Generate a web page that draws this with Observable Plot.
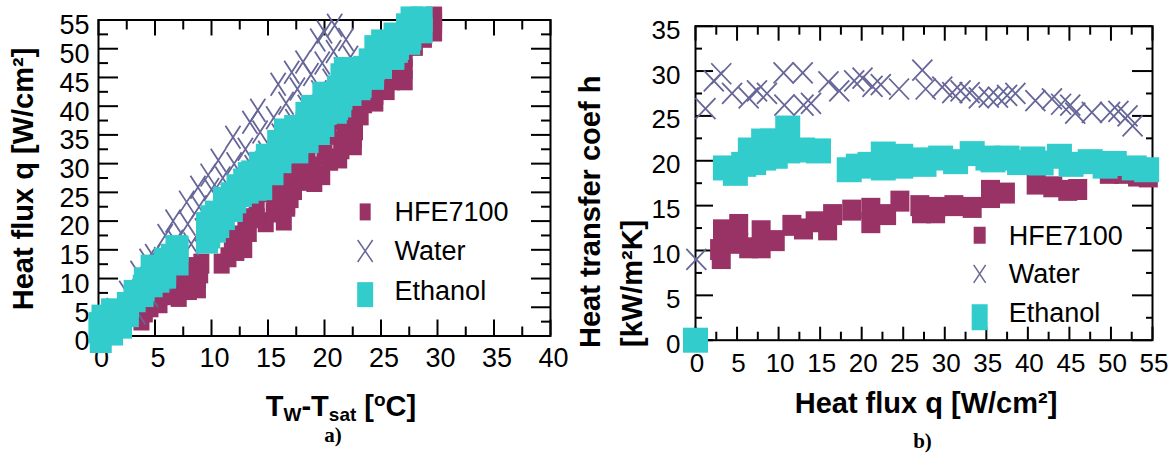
<!DOCTYPE html>
<html><head><meta charset="utf-8">
<script src="https://cdn.jsdelivr.net/npm/d3@7"></script>
<script src="https://cdn.jsdelivr.net/npm/@observablehq/plot@0.6"></script>
<style>
body{margin:0;background:#fff;}
#wrap{position:relative;width:1175px;height:454px;overflow:hidden;background:#fff;}
#wrap svg{position:absolute;top:0;}
</style></head><body><div id="wrap"></div>
<script>
// ---------- data (panel a: wall superheat [°C] vs heat flux [W/cm2]) ----------
const hfeLeft = [
 [3.8,2.7],[4.1,4.1],[4.6,5.0],[5.4,5.7],[5.4,7.5],[6.3,7.1],[7.1,6.8],[6.4,9.0],[7.5,8.5],[8.0,8.0],
 [8.8,8.3],[7.4,10.5],[8.8,10.0],[9.0,10.9],[8.3,12.0],[9.1,12.6],
 [10.9,12.6],[11.5,13.7],[11.8,15.5],[12.2,14.8],[12.9,15.3],[12.0,17.0],[12.5,17.5],[13.3,18.1],[14.8,19.8],
 [13.0,20.5],[14.0,20.5],[16.4,20.1],[15.5,21.5],[15.6,22.0],[14.0,22.5],[16.7,22.5],[16.7,23.0],[15.8,23.8],
 [17.0,24.0],[16.2,24.5],[15.3,25.0],[17.3,25.4],[16.5,26.5],[19.1,26.8],[16.0,27.0],[18.3,27.0],[17.3,27.5],
 [19.8,28.0],[18.0,28.5],[19.0,29.5],[17.5,30.0],[20.5,30.5],[21.3,30.9],[20.0,31.5],[18.5,32.5],[21.5,32.5],
 [22.6,33.2],[21.5,34.0],[22.6,34.5],[20.3,35.0],[22.7,35.8],[21.8,36.0],[22.7,37.0],[21.0,37.5],[23.2,38.4],
 [22.3,38.5],[22.0,40.0],[23.5,40.5],[24.5,40.8],[24.5,42.0],[22.8,42.0],[25.5,42.8],[23.8,43.5],[26.0,44.5],
 [27.1,44.5],[24.5,45.0],[26.0,46.5],[27.1,46.5],[25.5,47.5],[27.1,48.5],[26.5,50.0],[27.1,50.5],[28.0,50.5],
 [27.8,51.5],[28.8,51.9],[29.7,53.0],[28.0,53.5],[29.7,54.5],[29.7,55.6]
];
const waterLeft = [
 [0.3,0.8],[0.9,2.5],
 [1.4,4.6],[2.5,7.6],[3.5,11.1],[4.3,13.2],[4.8,14.0],[5.9,17.5],[6.6,20.0],[7.8,23.3],[8.8,25.9],[9.7,28.0],
 [10.6,30.6],[11.9,34.6],[13.4,37.2],[14.1,39.3],[15.9,43.8],[17.1,45.9],[18.1,47.7],[19.4,51.5],[20.0,52.9],[20.9,54.1],
 [2.3,4.0],[3.4,7.0],[4.5,10.0],[5.6,13.5],[6.8,16.5],[7.9,19.5],[8.9,22.5],[10.0,25.5],[11.0,27.5],[12.0,30.0],
 [13.0,32.5],[14.3,35.5],[15.5,38.0],[16.6,40.5],[17.6,43.0],[18.8,45.5],[19.8,47.5],[20.8,49.5],[21.9,51.6],
 [3.5,4.0],[4.6,7.0],[5.8,10.0],[7.0,13.0],[8.2,16.0],[9.2,18.5],[10.3,21.5],[11.5,24.5],[12.6,27.0],[13.6,29.5],
 [14.8,32.0],[16.0,35.0],[17.2,37.5],[18.3,40.0],[19.5,42.5],[20.5,44.5],[21.5,46.5],[22.3,48.5]
];
const ethanolLeft = [
 [0.2,-0.7],[0.1,1.0],[1.2,0.6],[0.1,1.9],[2.0,1.8],[0.35,3.2],[1.6,2.8],[1.2,4.3],[2.6,3.8],[2.6,5.4],
 [3.2,6.4],[3.9,7.3],[3.2,7.5],[4.0,8.4],[4.7,9.0],[4.1,9.7],[5.3,9.8],[5.9,10.5],[4.7,11.9],[5.3,11.5],
 [5.9,11.8],[7.0,12.8],[5.9,13.1],[6.5,13.8],[6.9,15.3],[7.0,15.2],
 [9.6,16.6],[9.8,17.5],[10.3,18.5],[9.6,19.3],[10.6,19.3],[10.0,20.5],[11.1,20.7],[10.4,21.3],[11.8,22.1],
 [11.3,22.5],[12.1,23.6],[11.1,23.7],[11.8,24.5],[12.6,24.7],[13.2,25.3],[12.5,25.5],[13.9,25.8],[14.4,25.9],
 [12.3,25.9],[12.9,26.9],[14.3,27.1],[13.3,28.0],[13.6,28.3],[15.4,28.5],[14.9,28.8],[14.3,29.8],[14.8,30.0],
 [16.1,30.6],[15.9,30.8],[14.9,31.2],[16.2,32.3],[17.6,32.3],[16.3,33.0],[15.9,33.6],[17.7,34.1],[18.5,34.1],
 [17.5,35.0],[18.6,35.5],[19.5,35.5],[16.5,35.6],[17.4,36.2],[18.4,36.8],[19.6,36.9],[19.9,36.9],[18.4,38.5],
 [20.1,39.0],[21.0,39.2],[19.5,39.5],[18.9,39.7],[21.1,39.8],[21.4,40.3],[20.5,41.0],[21.5,41.6],[19.9,42.0],
 [22.3,42.3],[21.2,43.1],[22.2,43.4],[23.1,43.3],[23.2,43.7],[23.0,45.0],[24.3,45.1],[21.5,45.2],[24.3,46.1],
 [21.8,46.3],[23.5,46.5],[25.0,47.0],[24.0,47.8],[25.0,48.5],[26.0,48.6],[26.1,48.6],[26.4,49.8],[24.5,50.1],
 [25.5,50.2],[26.5,50.3],[25.1,51.1],[27.5,51.2],[26.6,52.0],[27.6,52.0],[26.2,52.3],[28.6,53.2],[28.5,53.3],
 [27.3,53.9],[27.8,54.0],[27.7,55.1],[28.6,55.1]
];
// ---------- data (panel b: heat flux [W/cm2] vs heat transfer coefficient [kW/m2K]) ----------
const hfeRight = [
 [2.9,10.1],[3.1,9.1],[3.25,12.3],[3.25,11.2],[5.2,12.9],[5.2,10.8],[6.4,10.3],[7.9,12.2],[7.9,10.3],[9.6,11.1],
 [11.6,12.8],[13.0,12.4],[14.4,13.2],[15.9,12.3],[16.5,14.0],[18.8,14.5],[21.1,14.7],[21.1,13.1],[23.0,14.0],
 [24.6,15.5],[27.0,15.0],[27.2,14.2],[28.9,14.8],[28.9,14.2],[31.1,15.0],[33.3,14.8],[35.5,16.7],[35.5,15.9],
 [37.3,16.4],[41.0,17.4],[43.0,17.1],[44.8,16.7],[46.0,16.8],[49.8,18.6],[51.5,18.6],[53.2,18.3],[54.5,18.2]
];
const waterRight = [
 [0.1,9.0],[1.2,25.8],[2.2,28.9],[3.1,29.7],[4.4,27.5],[6.4,27.0],[7.4,27.8],[8.6,27.5],[10.6,29.8],[12.9,29.8],
 [10.7,26.2],[13.0,26.2],[13.9,26.4],[16.0,28.8],[17.3,27.8],[19.1,28.9],[20.1,29.2],[21.3,28.3],[22.3,28.5],
 [24.5,28.0],[27.3,30.1],[27.7,28.0],[29.7,28.2],[30.9,27.6],[31.9,27.8],[33.0,27.6],[34.1,27.0],[35.3,27.1],
 [36.4,27.1],[37.5,27.3],[38.5,27.5],[40.9,26.7],[42.9,26.9],[44.0,26.3],[45.1,26.2],[45.7,25.3],[47.7,25.4],
 [49.9,25.4],[50.9,25.5],[52.0,25.0],[52.6,23.9]
];
const ethanolRight = [
 [0,0],
 [3.6,19.2],[4.8,18.6],[5.8,19.6],[6.6,21.2],[7.0,19.8],[8.2,22.2],[8.2,20.3],[9.3,22.2],[9.6,20.5],
 [11.1,23.65],[11.1,21.1],[12.9,21.2],[14.8,21.1],
 [18.5,19.0],[19.6,19.4],[21.0,19.6],[22.6,20.75],[22.6,19.2],[24.7,20.5],[24.7,19.4],[27.3,20.1],[27.5,19.6],
 [29.5,20.3],[31.3,19.9],[33.3,20.8],[35.2,20.3],[35.8,20.1],[37.5,20.3],[39.0,19.8],[40.6,20.2],[41.6,19.75],
 [43.8,20.5],[45.2,19.6],[47.5,19.9],[49.3,19.4],[50.4,19.7],[52.8,19.2],[54.3,19.0]
];
const seriesNames = ["HFE7100", "Water", "Ethanol"];
const seriesColors = ["#993366", "#666699", "#33cccc"];
// ---------- ticks ----------
const xTicksLeft = [0, 5, 10, 15, 20, 25, 30, 35, 40];
const xMinorLeft = [2.5, 7.5, 12.5, 17.5, 22.5, 27.5, 32.5, 37.5];
const yTicksLeft = [0, 5, 10, 15, 20, 25, 30, 35, 40, 45, 50, 55];
const yMinorLeft = [2.5, 7.5, 12.5, 17.5, 22.5, 27.5, 32.5, 37.5, 42.5, 47.5, 52.5];
const xTicksRight = [0, 5, 10, 15, 20, 25, 30, 35, 40, 45, 50, 55];
const xMinorRight = [2.5, 7.5, 12.5, 17.5, 22.5, 27.5, 32.5, 37.5, 42.5, 47.5, 52.5];
const yTicksRight = [0, 5, 10, 15, 20, 25, 30, 35];
const yMinorRight = [2.5, 7.5, 12.5, 17.5, 22.5, 27.5, 32.5];

// ---------- helpers ----------
const FONT = "'Liberation Sans', Arial, Helvetica, sans-serif";
function rectSym(w, h) { return {draw(ctx) { ctx.rect(-w / 2, -h / 2, w, h); }}; }
function crossSym(w, h) { return {draw(ctx) { ctx.moveTo(-w / 2, -h / 2); ctx.lineTo(w / 2, h / 2); ctx.moveTo(w / 2, -h / 2); ctx.lineTo(-w / 2, h / 2); }}; }
const rows = (a) => a.map(([x, y]) => ({x, y}));

function panel(o) {
  const pw = o.width - o.mL - o.mR, ph = o.height - o.mT - o.mB;
  const K = {stroke: "black", strokeWidth: 2};
  const sym = o.sym;
  const leg = seriesNames.map((name, i) => ({name, i}));
  return Plot.plot({
    width: o.width, height: o.height,
    marginLeft: o.mL, marginRight: o.mR, marginTop: o.mT, marginBottom: o.mB,
    x: {domain: o.xDomain, axis: null},
    y: {domain: o.yDomain, axis: null},
    style: {fontFamily: FONT, background: "transparent", overflow: "visible"},
    marks: [
      Plot.frame(K),
      Plot.tickX(o.xMajor, {x: d => d, insetTop: ph - o.tl.b, ...K}),
      Plot.tickX(o.xMinor, {x: d => d, insetTop: ph - o.tl.bm, ...K}),
      Plot.tickX(o.xMajor, {x: d => d, insetBottom: ph - o.tl.t, ...K}),
      Plot.tickX(o.xMinor, {x: d => d, insetBottom: ph - o.tl.tm, ...K}),
      Plot.tickY(o.yMajor, {y: d => d, insetRight: pw - o.tl.l, ...K}),
      Plot.tickY(o.yMinor, {y: d => d, insetRight: pw - o.tl.lm, ...K}),
      Plot.tickY(o.yMajor, {y: d => d, insetLeft: pw - o.tl.r, ...K}),
      Plot.tickY(o.yMinor, {y: d => d, insetLeft: pw - o.tl.rm, ...K}),
      Plot.text(o.xMajor, {x: d => d, frameAnchor: "bottom", dy: o.xl.dy, dx: o.xl.dx, text: d => String(d), fontSize: o.tickFont, fill: "black"}),
      Plot.text(o.yMajor, {y: d => d, frameAnchor: "left", dx: o.yl.dx, dy: o.yl.dy, textAnchor: "end", text: d => String(d), fontSize: o.tickFont, fill: "black"}),
      Plot.dot(rows(o.hfe), {x: "x", y: "y", symbol: rectSym(...sym.hfe), fill: seriesColors[0], stroke: "none"}),
      Plot.dot(rows(o.water), {x: "x", y: "y", symbol: crossSym(...sym.water), fill: "none", stroke: seriesColors[1], strokeWidth: 1.8}),
      Plot.dot(rows(o.eth), {x: "x", y: "y", symbol: rectSym(...sym.eth), fill: seriesColors[2], stroke: "none"}),
      // legend
      Plot.dot(leg.filter(d => d.i === 0), {x: () => o.leg.mx, y: () => o.leg.my[0], symbol: rectSym(...o.leg.sz[0]), fill: seriesColors[0], stroke: "none"}),
      Plot.dot(leg.filter(d => d.i === 1), {x: () => o.leg.mx, y: () => o.leg.my[1], symbol: crossSym(...o.leg.sz[1]), fill: "none", stroke: seriesColors[1], strokeWidth: 1.5}),
      Plot.dot(leg.filter(d => d.i === 2), {x: () => o.leg.mx, y: () => o.leg.my[2], symbol: rectSym(...o.leg.sz[2]), fill: seriesColors[2], stroke: "none"}),
      Plot.text(leg, {x: () => o.leg.tx, y: d => o.leg.ty[d.i], text: "name", textAnchor: "start", fontSize: o.legFont, fill: "black", style: "letter-spacing:2px"})
    ]
  });
}

const H = 454;
const left = panel({
  width: 575, height: H, mL: 98, mR: 25, mT: 19.5, mB: 118.5,
  xDomain: [0, 40], yDomain: [0, 55],
  xMajor: xTicksLeft, xMinor: xMinorLeft, yMajor: yTicksLeft, yMinor: yMinorLeft,
  tl: {b: 16, bm: 9, t: 16, tm: 10, l: 20, lm: 10, r: 19, rm: 9},
  xl: {dx: 3, dy: 30.5}, yl: {dx: -9, dy: 5.7}, tickFont: 27,
  sym: {hfe: [16, 20], water: [15, 23], eth: [22, 26]},
  hfe: hfeLeft, water: waterLeft, eth: ethanolLeft,
  leg: {mx: 23.6, tx: 26.2, my: [21.6, 14.8, 7.2], ty: [21.6, 14.8, 7.7], sz: [[11, 17], [15, 22], [16, 25]]},
  legFont: 27
});
const right = panel({
  width: 600, height: H, mL: 120, mR: 23, mT: 25.7, mB: 114.3,
  xDomain: [0, 55], yDomain: [0, 35],
  xMajor: xTicksRight, xMinor: xMinorRight, yMajor: yTicksRight, yMinor: yMinorRight,
  tl: {b: 13, bm: 8, t: 15, tm: 9, l: 18, lm: 7, r: 20, rm: 6},
  xl: {dx: 1.5, dy: 31.3}, yl: {dx: -15, dy: 4.2}, tickFont: 26,
  sym: {hfe: [19, 21], water: [20, 21], eth: [25, 25]},
  hfe: hfeRight, water: waterRight, eth: ethanolRight,
  leg: {mx: 34.2, tx: 37.7, my: [11.7, 7.4, 2.56], ty: [11.6, 7.3, 2.94], sz: [[12, 17], [12, 18], [16, 26]]},
  legFont: 27
});
const wrap = document.getElementById("wrap");
left.style.left = "0px";
right.style.left = "575px";
wrap.appendChild(left);
wrap.appendChild(right);

// ---------- axis titles and panel labels ----------
const TB = {"font-family": FONT, "font-weight": "bold", "font-size": 29, fill: "black"};
function addText(svg, attrs, parts) {
  const t = d3.select(svg).append("text");
  for (const k in attrs) t.attr(k, attrs[k]);
  for (const p of parts) {
    const s = t.append("tspan").text(p.t);
    if (p.fs) s.attr("font-size", p.fs);
    if (p.dy) s.attr("dy", p.dy);
  }
  return t;
}
addText(left, {...TB, transform: "translate(33,179) rotate(-90)", "text-anchor": "middle"}, [{t: "Heat flux q [W/cm²]"}]);
addText(left, {...TB, x: 341, y: 416, "text-anchor": "middle"}, [
  {t: "T"}, {t: "W", fs: 19, dy: 5}, {t: "-T", dy: -5}, {t: "sat", fs: 19, dy: 5}, {t: " [", dy: -5},
  {t: "o", fs: 19, dy: -10}, {t: "C]", dy: 10}
]);
addText(left, {"font-family": "'Liberation Serif', 'Times New Roman', serif", "font-weight": "bold", "font-size": 21, x: 333, y: 442, "text-anchor": "middle", fill: "black"}, [{t: "a)"}]);
addText(right, {...TB, x: 351, y: 413, "text-anchor": "middle"}, [{t: "Heat flux q [W/cm²]"}]);
addText(right, {...TB, transform: "translate(25,348) rotate(-90)", "text-anchor": "start"}, [{t: "Heat transfer coef h"}]);
addText(right, {...TB, transform: "translate(67,347) rotate(-90)", "text-anchor": "start"}, [{t: "[kW/m²K]"}]);
addText(right, {"font-family": "'Liberation Serif', 'Times New Roman', serif", "font-weight": "bold", "font-size": 21, x: 347.5, y: 448, "text-anchor": "middle", fill: "black"}, [{t: "b)"}]);
</script></body></html>
